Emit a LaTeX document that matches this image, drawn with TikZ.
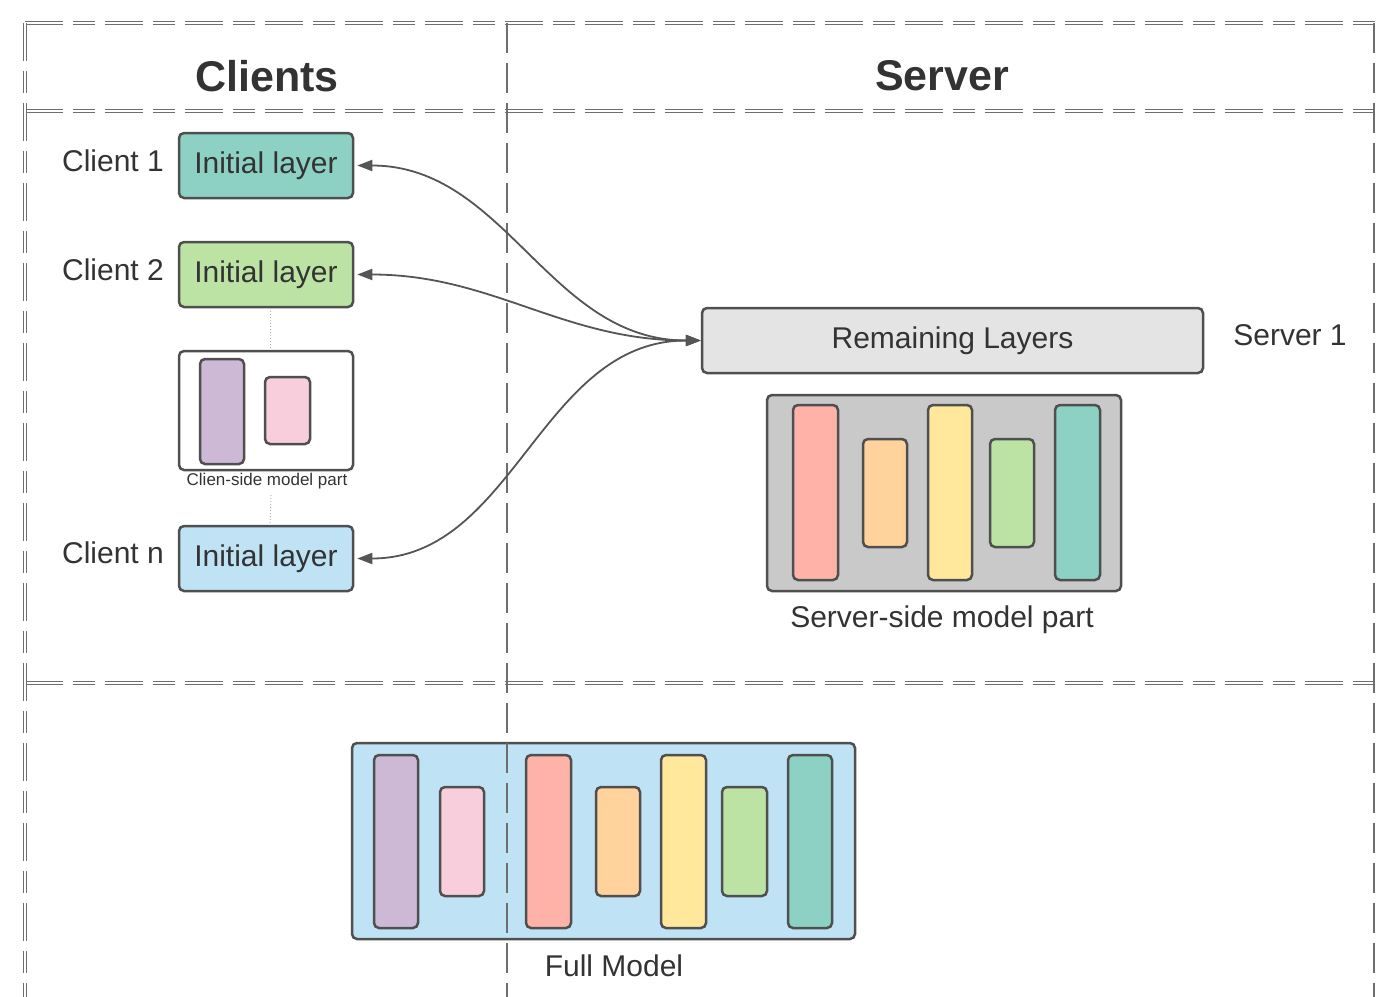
\documentclass[tikz,border=0pt]{standalone}
\usepackage{fontspec}
\setmainfont{Liberation Sans}
\usetikzlibrary{arrows.meta}
\definecolor{bord}{HTML}{4F4F4F}
\definecolor{txt}{HTML}{333333}
\definecolor{frm}{HTML}{6E6E6E}
\definecolor{arr}{HTML}{555555}
\definecolor{teal}{HTML}{8DD1C4}
\definecolor{lgreen}{HTML}{BDE3A4}
\definecolor{lblue}{HTML}{BFE3F5}
\definecolor{purp}{HTML}{CDB8D6}
\definecolor{pinkc}{HTML}{F8CDDC}
\definecolor{redc}{HTML}{FFB3A8}
\definecolor{orac}{HTML}{FFD39B}
\definecolor{yelc}{HTML}{FFE79B}
\definecolor{remc}{HTML}{E4E4E4}
\definecolor{srvc}{HTML}{C9C9C9}
\tikzset{
  box/.style={draw=bord, line width=2.5pt, rounded corners=5pt, inner sep=0pt, text=txt,
    font=\fontsize{30}{34}\selectfont},
  bar/.style={draw=bord, line width=2.5pt, rounded corners=5pt, inner sep=0pt},
  lbl/.style={text=txt, font=\fontsize{30}{34}\selectfont, inner sep=0pt},
  head/.style={text=txt, font=\fontsize{43}{48}\selectfont\bfseries, inner sep=0pt},
  dbl/.style={draw=frm, line width=1.1pt, double=white, double distance=2.6pt,
    dash pattern=on 38pt off 10pt on 22pt off 10pt},
  vdash/.style={draw=frm, line width=1.3pt, dash pattern=on 30pt off 10pt},
  link/.style={draw=arr, line width=1.8pt,
    {Triangle[length=15pt,width=11pt]}-{Triangle[length=15pt,width=11pt]}},
  dots/.style={draw=gray!60, line width=1pt, dotted}
}
\begin{document}
\begin{tikzpicture}[x=1pt,y=-1pt]
\useasboundingbox (0,0) rectangle (1376,996);
% headers
\node[head] (hc) at (267,76) {Clients};
\node[head] (hs) at (942,76) {Server};
% clients
\node[box, fill=teal, minimum width=174pt, minimum height=65pt] (c1) at (266,165.5) {Initial layer};
\node[box, fill=lgreen, minimum width=174pt, minimum height=65pt] (c2) at (266,274.5) {Initial layer};
\node[box, fill=lblue, minimum width=174pt, minimum height=65pt] (cn) at (266,558.5) {Initial layer};
\node[lbl] (l1) at (113,161) {Client 1};
\node[lbl] (l2) at (113,270) {Client 2};
\node[lbl] (ln) at (113,553) {Client n};
% client-side part
\node[bar, fill=white, minimum width=174pt, minimum height=119pt] (cs) at (266,410.5) {};
\node[bar, fill=purp, minimum width=44pt, minimum height=105pt] (cp1) at (222,411.5) {};
\node[bar, fill=pinkc, minimum width=45pt, minimum height=67pt] (cp2) at (287.5,410.5) {};
\node[text=txt, font=\fontsize{17}{19}\selectfont, inner sep=0pt] (csl) at (267,481) {Clien-side model part};
\draw[dots] ([xshift=4pt]c2.south) -- ([xshift=4pt]cs.north);
\draw[dots] ([xshift=4pt]csl.south) ++(0,6) -- ([xshift=4pt]cn.north);
% server
\node[box, fill=remc, minimum width=501pt, minimum height=65pt] (rem) at (952.5,340.5) {Remaining Layers};
\node[lbl] (s1l) at (1290,335) {Server 1};
\node[bar, fill=srvc, minimum width=354pt, minimum height=196pt] (sb) at (944,493) {};
\node[bar, fill=redc, minimum width=45pt, minimum height=175pt] (sb1) at (815.5,492.5) {};
\node[bar, fill=orac, minimum width=44pt, minimum height=108pt] (sb2) at (885,493) {};
\node[bar, fill=yelc, minimum width=44pt, minimum height=175pt] (sb3) at (950,492.5) {};
\node[bar, fill=lgreen, minimum width=44pt, minimum height=108pt] (sb4) at (1012,493) {};
\node[bar, fill=teal, minimum width=45pt, minimum height=175pt] (sb5) at (1077.5,492.5) {};
\node[lbl] (sbl) at (942,620) {Server-side model part};
% full model
\node[bar, fill=lblue, minimum width=503pt, minimum height=196pt] (fm) at (603.5,841) {};
\node[bar, fill=purp, minimum width=44pt, minimum height=173pt] (f1) at (396,841.5) {};
\node[bar, fill=pinkc, minimum width=44pt, minimum height=109pt] (f2) at (462,841.5) {};
\node[bar, fill=redc, minimum width=45pt, minimum height=173pt] (f3) at (548.5,841.5) {};
\node[bar, fill=orac, minimum width=44pt, minimum height=109pt] (f4) at (618,841.5) {};
\node[bar, fill=yelc, minimum width=45pt, minimum height=173pt] (f5) at (683.5,841.5) {};
\node[bar, fill=lgreen, minimum width=45pt, minimum height=109pt] (f6) at (744.5,841.5) {};
\node[bar, fill=teal, minimum width=44pt, minimum height=173pt] (f7) at (810,841.5) {};
\node[lbl] (fml) at (614,966) {Full Model};
% frame
\draw[dbl] (25,23) -- (1380,23);
\draw[dbl] (25,111) -- (1380,111);
\draw[dbl] (25,683) -- (1380,683);
\draw[dbl] (25,23) -- (25,1000);
\draw[vdash] (507,23) -- (507,1000);
\draw[vdash] (1374,23) -- (1374,1000);
% links
\draw[link, shorten <=3pt] (c1.east) to[out=0,in=180] (rem.west);
\draw[link, shorten <=3pt] (c2.east) to[out=0,in=180] (rem.west);
\draw[link, shorten <=3pt] (cn.east) to[out=0,in=180] (rem.west);
\end{tikzpicture}
\end{document}
